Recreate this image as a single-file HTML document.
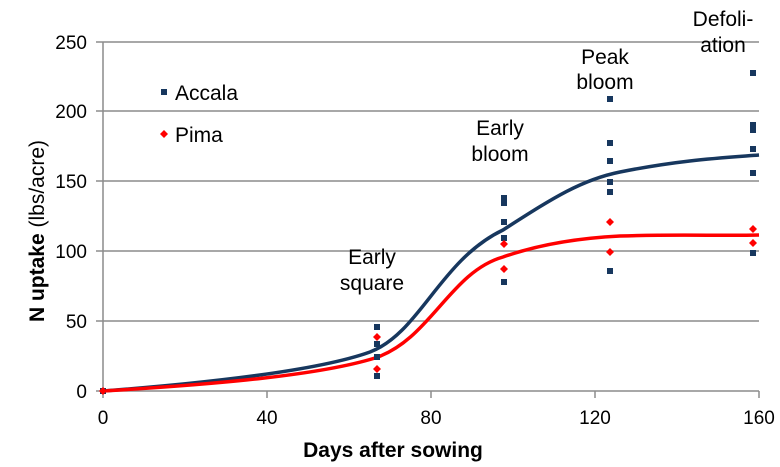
<!DOCTYPE html>
<html><head><style>body{margin:0;background:#fff}svg{display:block}text{font-family:"Liberation Sans",sans-serif}</style></head><body>
<svg width="780" height="467" xmlns="http://www.w3.org/2000/svg">
<g stroke="#8c8c8c" stroke-width="1.5">
<line x1="103" y1="42" x2="759" y2="42"/><line x1="103" y1="111" x2="759" y2="111"/><line x1="103" y1="181" x2="759" y2="181"/><line x1="103" y1="251" x2="759" y2="251"/><line x1="103" y1="321" x2="759" y2="321"/>
<line x1="103" y1="391" x2="759" y2="391"/><line x1="103" y1="42" x2="103" y2="391"/>
<line x1="96" y1="42" x2="103" y2="42"/><line x1="96" y1="111" x2="103" y2="111"/><line x1="96" y1="181" x2="103" y2="181"/><line x1="96" y1="251" x2="103" y2="251"/><line x1="96" y1="321" x2="103" y2="321"/><line x1="96" y1="391" x2="103" y2="391"/>
<line x1="103" y1="391" x2="103" y2="398"/><line x1="267" y1="391" x2="267" y2="398"/><line x1="431" y1="391" x2="431" y2="398"/><line x1="595" y1="391" x2="595" y2="398"/><line x1="759" y1="391" x2="759" y2="398"/>
</g>
<g font-size="19" fill="#000" text-anchor="end">
<text x="87" y="49">250</text><text x="87" y="118">200</text><text x="87" y="188">150</text><text x="87" y="258">100</text><text x="87" y="328">50</text><text x="87" y="398">0</text>
</g>
<g font-size="19" text-anchor="middle">
<text x="103" y="424">0</text><text x="267" y="424">40</text><text x="431" y="424">80</text><text x="595" y="424">120</text><text x="759" y="424">160</text>
</g>
<text x="393" y="457" font-size="21" font-weight="bold" text-anchor="middle">Days after sowing</text>
<text transform="translate(44,231) rotate(-90)" font-size="21" text-anchor="middle"><tspan font-weight="bold">N uptake</tspan> (lbs/acre)</text>
<g font-size="21" text-anchor="middle">
<text x="372" y="264">Early</text><text x="372" y="290">square</text>
<text x="500" y="135">Early</text><text x="500" y="161">bloom</text>
<text x="605" y="64">Peak</text><text x="605" y="89">bloom</text>
<text x="723" y="26">Defoli-</text><text x="723" y="52">ation</text>
</g>
<g font-size="21"><text x="175" y="100">Accala</text><text x="175" y="142">Pima</text></g>
<rect x="161" y="89" width="6" height="6" fill="#17375e"/>
<path d="M164,130 l4,4 l-4,4 l-4,-4z" fill="#f00"/>
<path d="M103,391 C220,382 320,370 370,352 C420,333 440,260 503,230 C550,200 580,180 620,172 C680,160 720,158 759,155" fill="none" stroke="#17375e" stroke-width="3.5"/>
<path d="M103,391 C220,384 320,375 375,358 C430,340 450,272 503,257 C540,244 580,238 620,236 C680,234 720,236 759,235" fill="none" stroke="#f00" stroke-width="3.5"/>
<g fill="#17375e">
<rect x="100" y="388" width="6" height="6"/>
<rect x="374" y="324" width="6" height="6"/><rect x="374" y="341" width="6" height="6"/><rect x="374" y="354" width="6" height="6"/><rect x="374" y="373" width="6" height="6"/>
<rect x="501" y="195" width="6" height="6"/><rect x="501" y="200" width="6" height="6"/><rect x="501" y="219" width="6" height="6"/><rect x="501" y="235" width="6" height="6"/><rect x="501" y="279" width="6" height="6"/>
<rect x="607" y="96" width="6" height="6"/><rect x="607" y="140" width="6" height="6"/><rect x="607" y="158" width="6" height="6"/><rect x="607" y="179" width="6" height="6"/><rect x="607" y="189" width="6" height="6"/><rect x="607" y="268" width="6" height="6"/>
<rect x="750" y="70" width="6" height="6"/><rect x="750" y="122" width="6" height="6"/><rect x="750" y="127" width="6" height="6"/><rect x="750" y="146" width="6" height="6"/><rect x="750" y="170" width="6" height="6"/><rect x="750" y="250" width="6" height="6"/>
</g>
<g fill="#f00">
<path d="M103,387 l4,4 l-4,4 l-4,-4z"/>
<path d="M377,333 l4,4 l-4,4 l-4,-4z"/><path d="M377,365 l4,4 l-4,4 l-4,-4z"/>
<path d="M504,240 l4,4 l-4,4 l-4,-4z"/><path d="M504,265 l4,4 l-4,4 l-4,-4z"/>
<path d="M610,218 l4,4 l-4,4 l-4,-4z"/><path d="M610,248 l4,4 l-4,4 l-4,-4z"/>
<path d="M753,225 l4,4 l-4,4 l-4,-4z"/><path d="M753,239 l4,4 l-4,4 l-4,-4z"/>
</g>
</svg>
</body></html>
